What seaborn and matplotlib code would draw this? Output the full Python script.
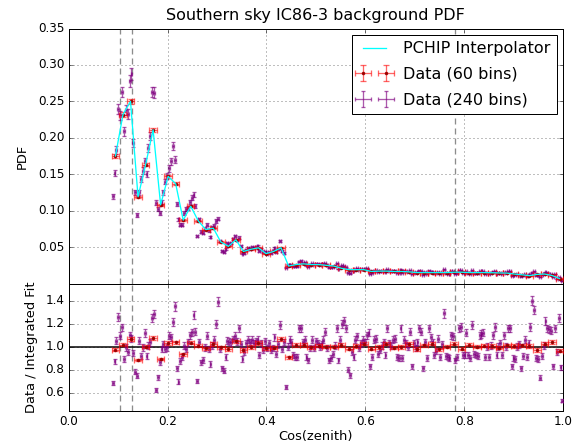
import numpy as np
import pandas as pd
import matplotlib
matplotlib.use("Agg")
import matplotlib.pyplot as plt
import seaborn as sns

# ---------------- data ----------------
cos_min, cos_max = 0.0872, 1.0
n60, n240 = 60, 240

pdf60 = [0.175, 0.232, 0.250, 0.119, 0.163, 0.211, 0.108, 0.147, 0.137, 0.087,
         0.106, 0.086, 0.074, 0.076, 0.057, 0.051, 0.060, 0.044, 0.047, 0.049,
         0.041, 0.044, 0.049, 0.024, 0.026, 0.027, 0.026, 0.026, 0.025, 0.024,
         0.021, 0.019, 0.019, 0.019, 0.0165, 0.017, 0.017, 0.0165, 0.0165, 0.016,
         0.015, 0.015, 0.015, 0.015, 0.015, 0.0155, 0.0155, 0.015, 0.015, 0.015,
         0.0148, 0.0145, 0.0143, 0.013, 0.012, 0.0108, 0.0125, 0.013, 0.011, 0.0068]

ratio60 = [0.974, 1.017, 1.067, 0.884, 1.000, 1.075, 0.893, 1.032, 1.038, 0.936,
           1.035, 1.009, 0.986, 1.023, 0.994, 0.980, 1.046, 0.971, 0.997, 1.033,
           0.986, 0.991, 1.067, 0.907, 1.014, 1.014, 0.994, 1.009, 1.000, 1.000,
           1.014, 0.983, 1.006, 1.026, 0.983, 0.997, 1.026, 0.991, 0.997, 1.023,
           0.980, 1.012, 1.026, 0.977, 1.000, 1.026, 0.983, 1.017, 1.000, 1.009,
           1.006, 0.991, 1.012, 1.006, 1.012, 1.006, 0.971, 1.026, 1.041, 0.965]

pdf240 = [0.120, 0.152, 0.183, 0.240, 0.231, 0.263, 0.209, 0.238,
          0.233, 0.278, 0.288, 0.193, 0.125, 0.094, 0.125, 0.143,
          0.155, 0.168, 0.150, 0.186, 0.202, 0.263, 0.262, 0.111,
          0.102, 0.097, 0.112, 0.125, 0.140, 0.147, 0.158, 0.168,
          0.189, 0.170, 0.109, 0.088, 0.081, 0.081, 0.097, 0.102,
          0.104, 0.112, 0.118, 0.122, 0.106, 0.065, 0.088, 0.071,
          0.070, 0.075, 0.081, 0.073, 0.064, 0.077, 0.079, 0.086,
          0.089, 0.058, 0.045, 0.043, 0.048, 0.055, 0.054, 0.056,
          0.061, 0.065, 0.060, 0.063, 0.051, 0.041, 0.042, 0.046,
          0.049, 0.048, 0.050, 0.049, 0.050, 0.052, 0.045, 0.047,
          0.043, 0.044, 0.041, 0.043, 0.042, 0.044, 0.049, 0.043,
          0.048, 0.058, 0.045, 0.042, 0.0215, 0.026, 0.025, 0.026,
          0.024, 0.024, 0.024, 0.030, 0.031, 0.028, 0.029, 0.025,
          0.023, 0.026, 0.028, 0.026, 0.027, 0.027, 0.026, 0.027,
          0.027, 0.028, 0.025, 0.022, 0.022, 0.023, 0.024, 0.028,
          0.020, 0.023, 0.025, 0.024, 0.022, 0.015, 0.014, 0.018,
          0.017, 0.020, 0.021, 0.019, 0.020, 0.020, 0.020, 0.021,
          0.0185, 0.0137, 0.015, 0.0175, 0.0182, 0.016, 0.0165, 0.0172,
          0.0177, 0.0158, 0.0197, 0.0175, 0.0167, 0.0175, 0.0177, 0.015,
          0.0149, 0.0191, 0.0149, 0.0175, 0.0165, 0.016, 0.0181, 0.0133,
          0.0155, 0.0149, 0.0156, 0.0174, 0.017, 0.0122, 0.0156, 0.0135,
          0.0174, 0.0162, 0.0156, 0.014, 0.0144, 0.016, 0.0137, 0.0153,
          0.0194, 0.0138, 0.0137, 0.0135, 0.017, 0.0169, 0.0136, 0.0141,
          0.018, 0.0181, 0.0144, 0.0144, 0.0168, 0.014, 0.0135, 0.0179,
          0.0141, 0.014, 0.0138, 0.0165, 0.0167, 0.0168, 0.0137, 0.015,
          0.0135, 0.0149, 0.0163, 0.0173, 0.0135, 0.0145, 0.0149, 0.0135,
          0.0157, 0.0143, 0.0166, 0.0166, 0.0108, 0.0117, 0.0116, 0.013,
          0.0122, 0.0097, 0.011, 0.0127, 0.0098, 0.0111, 0.0126, 0.0151,
          0.0165, 0.0113, 0.0111, 0.0091, 0.012, 0.0131, 0.0159, 0.0151,
          0.0127, 0.0125, 0.0091, 0.0128, 0.0065, 0.0085, 0.0056, 0.0036]

ratio240 = [0.684, 0.872, 1.052, 1.255, 1.096, 1.168, 0.893, 0.994, 0.951, 1.101,
            1.072, 0.942, 0.783, 0.748, 1.052, 0.922, 0.994, 1.119, 0.916, 1.009,
            1.038, 1.246, 1.284, 0.626, 0.733, 0.864, 0.980, 1.023, 0.980, 0.994,
            1.096, 1.081, 1.212, 1.351, 0.812, 0.696, 0.878, 0.907, 1.009, 0.980,
            1.038, 1.101, 1.125, 1.275, 1.130, 0.699, 1.038, 0.864, 0.887, 0.994,
            1.096, 0.980, 0.849, 1.009, 1.061, 1.197, 1.391, 0.980, 0.812, 0.791,
            0.907, 1.052, 1.043, 1.038, 1.067, 1.096, 1.043, 1.159, 1.023, 0.893,
            0.95, 1.03, 1.06, 1.04, 1.06, 1.03, 1.05, 1.06, 0.93, 1.03,
            0.97, 1.05, 0.99, 1.03, 0.97, 0.99, 1.08, 0.94, 1.02, 1.19,
            0.98, 1.04, 0.65, 1.00, 1.06, 1.04, 0.93, 0.91, 0.91, 1.16,
            1.16, 1.04, 1.06, 0.91, 0.88, 0.99, 1.06, 0.99, 1.05, 1.03,
            1.00, 1.02, 1.06, 1.13, 0.99, 0.88, 0.90, 0.94, 1.01, 1.16,
            0.88, 1.06, 1.20, 1.22, 1.16, 0.80, 0.75, 0.95, 0.91, 1.06,
            1.09, 0.99, 1.03, 1.06, 1.04, 1.10, 1.12, 0.83, 0.91, 1.06,
            1.07, 0.94, 0.97, 1.01, 1.04, 0.93, 1.16, 1.03, 1.01, 1.06,
            1.07, 0.91, 0.90, 1.16, 0.90, 1.06, 1.03, 1.00, 1.13, 0.83,
            1.03, 0.99, 1.04, 1.16, 1.13, 0.81, 1.04, 0.90, 1.16, 1.08,
            1.04, 0.93, 0.96, 1.07, 0.91, 1.02, 1.29, 0.92, 0.91, 0.90,
            1.10, 1.09, 0.88, 0.91, 1.16, 1.17, 0.93, 0.93, 1.12, 0.93,
            0.90, 1.19, 0.94, 0.93, 0.92, 1.10, 1.11, 1.12, 0.91, 1.00,
            0.91, 1.01, 1.10, 1.17, 0.93, 1.00, 1.03, 0.93, 1.10, 1.00,
            1.16, 1.16, 0.83, 0.90, 0.89, 1.00, 1.02, 0.81, 0.92, 1.06,
            0.91, 1.03, 1.17, 1.40, 1.32, 0.90, 0.89, 0.73, 0.92, 1.01,
            1.22, 1.16, 1.15, 1.14, 0.83, 1.16, 0.95, 1.25, 0.82, 0.53]

rel_err60 = 0.014
rel_err240 = 0.028
vlines = [0.1045, 0.1275, 0.781]

title = "Southern sky IC86-3 background PDF"
xlabel = "Cos(zenith)"
ylabel_top = "PDF"
ylabel_bot = "Data / Integrated Fit"
legend_labels = ["PCHIP Interpolator", "Data (60 bins)", "Data (240 bins)"]
top_yticks = [0.05, 0.10, 0.15, 0.20, 0.25, 0.30, 0.35]
bot_yticks = [0.6, 0.8, 1.0, 1.2, 1.4]
xticks = [0.0, 0.2, 0.4, 0.6, 0.8, 1.0]

assert len(pdf60) == n60 and len(ratio60) == n60
assert len(pdf240) == n240 and len(ratio240) == n240

# ---------------- derived binning ----------------
edges60 = np.linspace(cos_min, cos_max, n60 + 1)
edges240 = np.linspace(cos_min, cos_max, n240 + 1)
df60 = pd.DataFrame({"x": 0.5 * (edges60[1:] + edges60[:-1]),
                     "hw": 0.5 * np.diff(edges60),
                     "pdf": pdf60, "ratio": ratio60})
df240 = pd.DataFrame({"x": 0.5 * (edges240[1:] + edges240[:-1]),
                      "hw": 0.5 * np.diff(edges240),
                      "pdf": pdf240, "ratio": ratio240})

# ---------------- style ----------------
plt.style.use("classic")
plt.rcParams["figure.facecolor"] = "white"
plt.rcParams["savefig.facecolor"] = "white"
plt.rcParams["font.family"] = ["DejaVu Sans"]

fig = plt.figure(figsize=(576 / 72, 446 / 72), dpi=72)
gs = fig.add_gridspec(2, 1, height_ratios=[2, 1], hspace=0,
                      left=0.119, right=0.978, top=0.936, bottom=0.0785)
ax1 = fig.add_subplot(gs[0])
ax2 = fig.add_subplot(gs[1], sharex=ax1)

red_bar = (1.0, 0.0, 0.0, 0.6)
pur_bar = (0.5, 0.0, 0.5, 0.65)
dark_red = "#9b0000"

# top panel
e240 = ax1.errorbar(df240["x"], df240["pdf"], xerr=df240["hw"],
                    yerr=df240["pdf"] * rel_err240, fmt="none",
                    ecolor=pur_bar, elinewidth=1.3, capsize=2, capthick=1.3,
                    zorder=2)
e60 = ax1.errorbar(df60["x"], df60["pdf"], xerr=df60["hw"],
                   yerr=df60["pdf"] * rel_err60, fmt="o", ms=3,
                   color=dark_red, mec=dark_red, ecolor=red_bar,
                   elinewidth=1.3, capsize=3, capthick=1.3, zorder=3)
sns.lineplot(data=df60, x="x", y="pdf", ax=ax1, color="cyan", lw=1.3,
             label=legend_labels[0], zorder=4)
line = ax1.get_lines()[-1]

for v in vlines:
    ax1.axvline(v, color="0.55", ls=(0, (6, 4)), lw=1.3, zorder=1)
    ax2.axvline(v, color="0.55", ls=(0, (6, 4)), lw=1.3, zorder=1)

ax1.set_xlim(0, 1)
ax1.set_ylim(0, 0.35)
ax1.set_yticks(top_yticks)
ax1.set_ylabel(ylabel_top, fontsize=13, labelpad=9)
ax1.set_title(title, fontsize=16, pad=9)
ax1.grid(True)
plt.setp(ax1.get_xticklabels(), visible=False)
ax1.legend([line, e60, e240], legend_labels,
           loc="upper right", numpoints=2, fontsize=16,
           borderaxespad=0.4, handlelength=2.0, labelspacing=0.65)

# bottom panel
ax2.axhline(1.0, color="black", lw=1.5, zorder=2)
ax2.errorbar(df240["x"], df240["ratio"], xerr=df240["hw"],
             yerr=df240["ratio"] * rel_err240, fmt="none",
             ecolor=pur_bar, elinewidth=1.3, capsize=2, capthick=1.3, zorder=3)
ax2.errorbar(df60["x"], df60["ratio"], xerr=df60["hw"],
             yerr=df60["ratio"] * rel_err60, fmt="o", ms=3,
             color=dark_red, mec=dark_red, ecolor=red_bar,
             elinewidth=1.3, capsize=3, capthick=1.3, zorder=4)
ax2.set_ylim(0.44, 1.55)
ax2.set_yticks(bot_yticks)
ax2.set_xticks(xticks)
ax2.set_xlabel(xlabel, fontsize=13, labelpad=2)
ax2.set_ylabel(ylabel_bot, fontsize=13, labelpad=8)
ax2.grid(True)

fig.savefig("out.png", dpi=72)
